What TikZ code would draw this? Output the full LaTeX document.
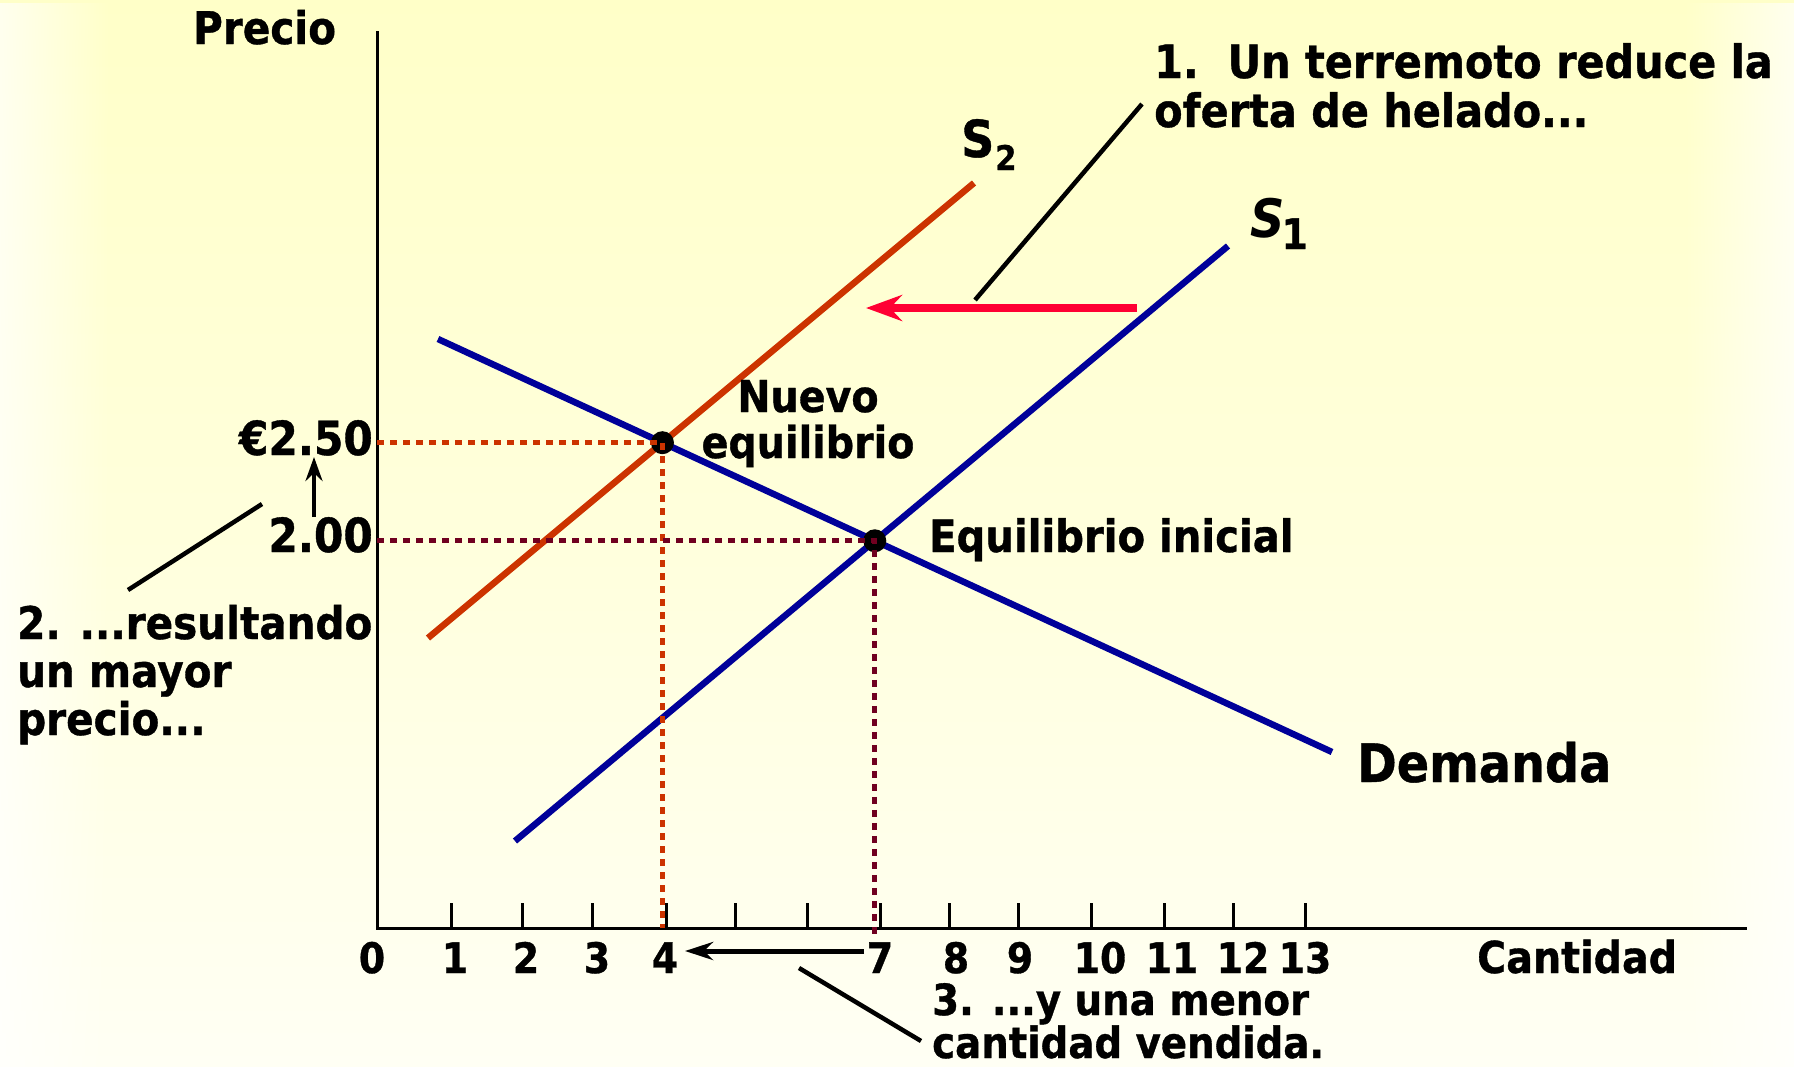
\documentclass[tikz,border=0pt]{standalone}
\usepackage{fontspec}
\setmainfont{DejaVu Sans}[FakeStretch=0.9, BoldFeatures={FakeBold=0.8}]
\usetikzlibrary{arrows.meta,fadings,calc}
\definecolor{bgtop}{HTML}{FFFFC8}
\definecolor{bgmid}{HTML}{FFFFDC}
\definecolor{bgbot}{HTML}{FFFFF4}
\definecolor{demblue}{HTML}{000099}
\definecolor{stwo}{HTML}{CC3300}
\definecolor{redarrow}{HTML}{FF0033}
\definecolor{maroonc}{HTML}{700020}
\tikzfading[name=fadeE, left color=transparent!0, right color=transparent!100]
\tikzfading[name=fadeW, left color=transparent!100, right color=transparent!0]
\newcommand{\fs}[2]{\fontsize{#1}{#2}\selectfont}
\tikzset{
  lbl/.style={inner sep=0pt, font=\bfseries\fs{45}{48}},
  num/.style={inner sep=0pt, font=\bfseries\fs{42}{44}},
  curve/.style={line width=6.5pt},
  dotline/.style={line width=5pt, dash pattern=on 7pt off 6pt},
  callout/.style={line width=4.5pt, black},
  tickmark/.style={line width=3pt},
  eqdot/.style={circle, fill=black, minimum size=23pt, inner sep=0pt},
}
\begin{document}
\begin{tikzpicture}[x=1pt,y=-1pt]
\useasboundingbox (0,0) rectangle (1794,1066);
% background
\shade[top color=bgtop, bottom color=bgbot, middle color=bgmid] (0,0) rectangle (1794,1066);
\fill[white, path fading=fadeE, fill opacity=0.7] (0,0) rectangle (110,1066);
\fill[white, path fading=fadeW, fill opacity=0.7] (1684,0) rectangle (1794,1066);

% axes
\coordinate (O) at (377,928);
\coordinate (Ytop) at (377,31);
\coordinate (Xend) at (1747,928);
\draw[line width=3pt] (Ytop) -- (O) -- (Xend);
\foreach \x in {451,522,592,666,735,807,880,949,1018,1091,1164,1233,1305}
  \draw[tickmark] (\x,903) -- (\x,928);
\foreach \x/\t in {372/0,455/1,526/2,597/3,665/4,880/7,956/8,1020/9,1100/10,1172/11,1243/12,1305/13}
  \node[num, anchor=base] (q\t) at (\x,973) {\t};

% curves
\coordinate (D1) at (438,339);
\coordinate (D2) at (1332,752);
\coordinate (S1a) at (515,841);
\coordinate (S1b) at (1228,246);
\coordinate (S2a) at (428,638);
\coordinate (S2b) at (974,183);
\coordinate (E1) at (intersection of D1--D2 and S1a--S1b);
\coordinate (E2) at (intersection of D1--D2 and S2a--S2b);
\draw[curve, stwo] (S2a) -- (S2b);
\draw[curve, demblue] (S1a) -- (S1b);
\draw[curve, demblue] (D1) -- (D2);

% equilibrium points
\node[eqdot] (e1) at (E1) {};
\node[eqdot] (e2) at (E2) {};

% dotted guides
\draw[dotline, stwo] (O |- E2) -- (E2) -- (E2 |- O);
\draw[dotline, maroonc] (O |- E1) -- (E1) -- ($(E1 |- O)+(0,8)$);

% red shift arrow
\coordinate (A1) at (1137,308);
\coordinate (A2) at (866,308);
\draw[redarrow, line width=8pt, -{Stealth[length=36pt,width=26pt,inset=12pt]}] (A1) -- (A2);

% labels
\node[lbl, anchor=base west] (precio) at (193,44) {Precio};
\node[lbl, font=\bfseries\fs{47}{48}, anchor=base east] (p250) at (373,455) {€2.50};
\node[lbl, font=\bfseries\fs{47}{48}, anchor=base east] (p200) at (373,552) {2.00};
\node[lbl, font=\bfseries\fs{51}{52}, anchor=base west] (s2) at (961,157) {S\kern1pt\raisebox{-13pt}{\fs{34}{34}2}};
\node[lbl, font=\bfseries\fs{53}{54}, anchor=base west] (s1) at (1250,237) {\itshape S\kern-3pt\upshape\raisebox{-12pt}{\fs{42}{42}1}};
\node[lbl, font=\bfseries\fs{46}{49}, anchor=base west, align=left] (t1) at (1154,127) {1.\ \ Un terremoto reduce la\\oferta de helado...};
\node[lbl, anchor=base west, align=left] (t2) at (17,735) {2. ...resultando\\un mayor\\precio...};
\node[lbl, font=\bfseries\fs{43}{41}, anchor=base west, align=left] (t3) at (932,1058) {3. ...y una menor\\cantidad vendida.};
\node[lbl, font=\bfseries\fs{44}{46}, align=center, anchor=base] (nuevo) at (808,458) {Nuevo\\equilibrio};
\node[lbl, font=\bfseries\fs{44.6}{46}, anchor=base west] (inicial) at (929,552) {Equilibrio inicial};
\node[lbl, font=\bfseries\fs{53}{54}, anchor=base west] (demanda) at (1357,782) {Demanda};
\node[lbl, font=\bfseries\fs{44}{46}, anchor=base west] (cantidad) at (1477,973) {Cantidad};

% small arrows
\coordinate (U1) at (314,517);
\coordinate (U2) at (314,457);
\draw[line width=4pt, -{Stealth[length=24pt,width=17pt,inset=8pt]}] (U1) -- (U2);
\coordinate (H1) at (864,951);
\coordinate (H2) at (685,951);
\draw[line width=5pt, -{Stealth[length=28pt,width=18pt,inset=9pt]}] (H1) -- (H2);

% callout lines
\coordinate (C1a) at (1142,104);
\coordinate (C1b) at (975,300);
\draw[callout] (C1a) -- (C1b);
\coordinate (C2a) at (262,504);
\coordinate (C2b) at (128,590);
\draw[callout] (C2a) -- (C2b);
\coordinate (C3a) at (799,968);
\coordinate (C3b) at (921,1041);
\draw[callout] (C3a) -- (C3b);
\end{tikzpicture}
\end{document}
